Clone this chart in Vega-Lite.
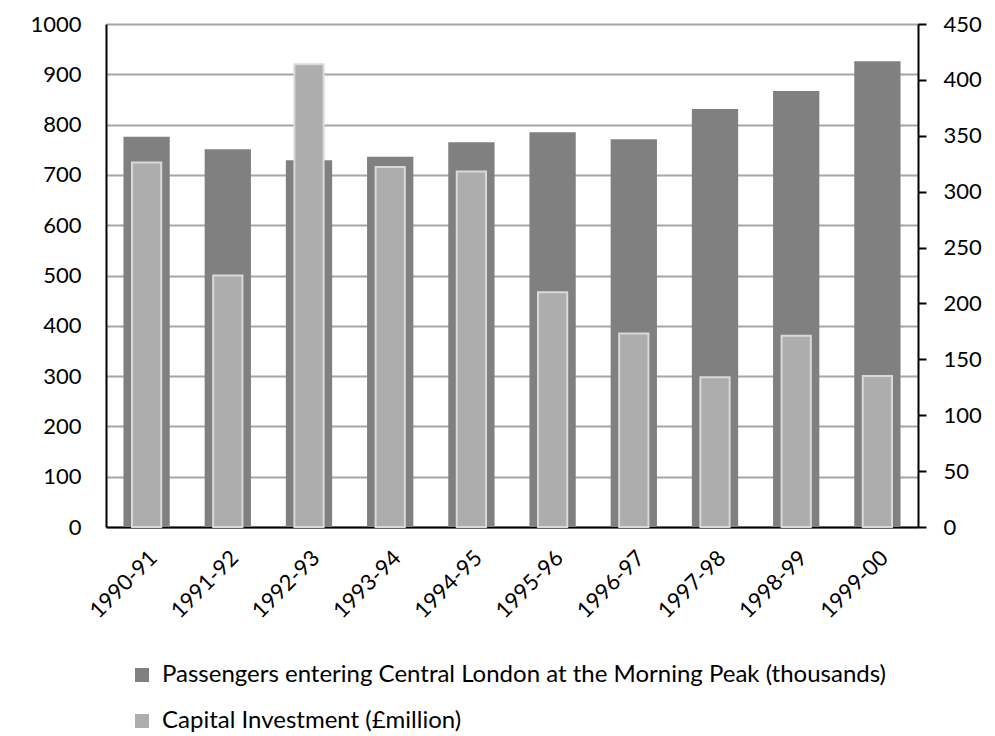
{
  "$schema": "https://vega.github.io/schema/vega-lite/v6.json",
  "width": 812,
  "height": 503,
  "autosize": "none",
  "padding": {"left": 106, "top": 24, "right": 77, "bottom": 209},
  "background": "white",
  "config": {
    "view": {"stroke": null},
    "font": "Lato",
    "axis": {"labelFont": "Lato", "labelFontSize": 22, "labelColor": "#000000", "titleFont": "Lato"},
    "legend": {"labelFont": "Lato", "labelFontSize": 24, "labelColor": "#000000", "labelLimit": 0}
  },
  "data": {
    "values": [
      {"year": "1990-91", "passengers": 776, "investment": 326},
      {"year": "1991-92", "passengers": 751, "investment": 225},
      {"year": "1992-93", "passengers": 729, "investment": 414},
      {"year": "1993-94", "passengers": 736, "investment": 322},
      {"year": "1994-95", "passengers": 765, "investment": 318},
      {"year": "1995-96", "passengers": 785, "investment": 210},
      {"year": "1996-97", "passengers": 771, "investment": 173},
      {"year": "1997-98", "passengers": 831, "investment": 134},
      {"year": "1998-99", "passengers": 867, "investment": 171},
      {"year": "1999-00", "passengers": 926, "investment": 135}
    ]
  },
  "encoding": {
    "x": {
      "field": "year",
      "type": "nominal",
      "sort": null,
      "scale": {"paddingInner": 0, "paddingOuter": 0},
      "axis": {
        "title": null,
        "labelAngle": -45,
        "labelAlign": "right",
        "labelBaseline": "top",
        "ticks": false,
        "labelPadding": 20,
        "labelDx": 4,
        "domainColor": "#000000",
        "domainWidth": 2
      }
    }
  },
  "layer": [
    {
      "mark": {"type": "bar", "width": {"band": 0.57}},
      "encoding": {
        "y": {
          "field": "passengers",
          "type": "quantitative",
          "scale": {"domain": [0, 1000], "nice": false},
          "axis": {
            "title": null,
            "orient": "left",
            "format": "d",
            "values": [0, 100, 200, 300, 400, 500, 600, 700, 800, 900, 1000],
            "grid": true,
            "gridColor": "#a6a6a6",
            "gridWidth": 1.8,
            "ticks": false,
            "labelPadding": 25,
            "domainColor": "#000000",
            "domainWidth": 2
          }
        },
        "color": {
          "datum": "Passengers entering Central London at the Morning Peak (thousands)",
          "type": "nominal",
          "scale": {
            "domain": ["Passengers entering Central London at the Morning Peak (thousands)", "Capital Investment (£million)"],
            "range": ["#808080", "#adadad"]
          },
          "legend": {
            "title": null,
            "orient": "none",
            "legendX": 24,
            "legendY": 639,
            "direction": "vertical",
            "symbolType": "square",
            "symbolSize": 196,
            "symbolStrokeWidth": 0,
            "rowPadding": 22,
            "labelOffset": 8
          }
        }
      }
    },
    {
      "mark": {"type": "bar", "width": {"band": 0.36}, "stroke": "#d9d9d9", "strokeWidth": 2},
      "encoding": {
        "y": {
          "field": "investment",
          "type": "quantitative",
          "scale": {"domain": [0, 450], "nice": false},
          "axis": {
            "title": null,
            "orient": "right",
            "values": [0, 50, 100, 150, 200, 250, 300, 350, 400, 450],
            "grid": false,
            "ticks": true,
            "tickColor": "#000000",
            "tickSize": 8,
            "tickWidth": 2,
            "labelPadding": 17,
            "domainColor": "#000000",
            "domainWidth": 2
          }
        },
        "color": {
          "datum": "Capital Investment (£million)",
          "type": "nominal"
        }
      }
    }
  ],
  "resolve": {"scale": {"y": "independent"}}
}
